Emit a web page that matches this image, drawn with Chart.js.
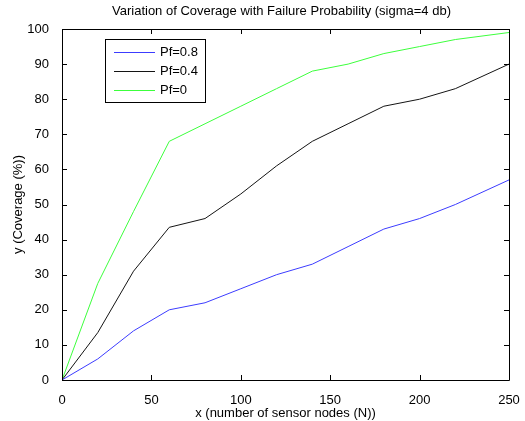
<!DOCTYPE html>
<html>
<head>
<meta charset="utf-8">
<script src="https://cdn.jsdelivr.net/npm/chart.js@4.4.1/dist/chart.umd.min.js"></script>
<style>
  body { margin: 0; background: #fff; }
  canvas { display: block; }
</style>
</head>
<body>
<canvas id="myChart" width="525" height="421"></canvas>
<script>
// datos
const nodes = [0, 20, 40, 60, 80, 100, 120, 140, 160, 180, 200, 220, 250];
const pf08 = [0, 6, 14, 20, 22, 26, 30, 33, 38, 43, 46, 50, 57];
const pf04 = [0, 13.5, 31, 43.5, 46, 53, 61, 68, 73, 78, 80, 83, 90];
const pf0 = [0, 27.5, 48, 68, 73, 78, 83, 88, 90, 93, 95, 97, 99];
const seriesNames = ["Pf=0.8", "Pf=0.4", "Pf=0"];
const xTicks = [0, 50, 100, 150, 200, 250];
const yTicks = [0, 10, 20, 30, 40, 50, 60, 70, 80, 90, 100];
const chartTitle = "Variation of Coverage with Failure Probability (sigma=4 db)";

Chart.defaults.font.family = "'Liberation Sans', Arial, sans-serif";
Chart.defaults.font.size = 13;
Chart.defaults.color = "#000";

function toPoints(ys) {
    return nodes.map((x, i) => ({ x: x, y: ys[i] }));
}

// marco estilo matlab con ticks hacia dentro, titulo centrado sobre los ejes y leyenda dentro
const frameAndLegend = {
    id: "frameAndLegend",
    afterDatasetsDraw(chart) {
        const ctx = chart.ctx;
        const a = chart.chartArea;
        const xs = chart.scales.x, ys = chart.scales.y;
        const t = 5;
        ctx.save();
        ctx.strokeStyle = "#000";
        ctx.lineWidth = 1;
        ctx.beginPath();
        ctx.rect(Math.round(a.left) + 0.5, Math.round(a.top) + 0.5,
                 Math.round(a.right - a.left), Math.round(a.bottom - a.top));
        xTicks.forEach(v => {
            const px = Math.round(xs.getPixelForValue(v)) + 0.5;
            ctx.moveTo(px, a.bottom); ctx.lineTo(px, a.bottom - t);
            ctx.moveTo(px, a.top); ctx.lineTo(px, a.top + t);
        });
        yTicks.forEach(v => {
            const py = Math.round(ys.getPixelForValue(v)) + 0.5;
            ctx.moveTo(a.left, py); ctx.lineTo(a.left + t, py);
            ctx.moveTo(a.right, py); ctx.lineTo(a.right - t, py);
        });
        ctx.stroke();

        // titulo
        ctx.font = "13px 'Liberation Sans', Arial, sans-serif";
        ctx.fillStyle = "#000";
        ctx.textAlign = "center";
        ctx.textBaseline = "middle";
        ctx.fillText(chartTitle, (a.left + a.right) / 2 - 4, 11);

        // leyenda
        const lx = 105.5, ly = 39.5, lw = 100, lh = 63;
        ctx.fillStyle = "#fff";
        ctx.fillRect(lx, ly, lw, lh);
        ctx.strokeRect(lx, ly, lw, lh);
        ctx.textAlign = "left";
        chart.data.datasets.forEach((ds, i) => {
            const cy = Math.round(52 + i * 19) + 0.5;
            ctx.strokeStyle = ds.borderColor;
            ctx.beginPath();
            ctx.moveTo(114, cy); ctx.lineTo(155, cy);
            ctx.stroke();
            ctx.fillStyle = "#000";
            ctx.fillText(ds.label, 160, cy);
        });
        ctx.restore();
    }
};

const ctx = document.getElementById("myChart").getContext("2d");
const chart = new Chart(ctx, {
    type: "scatter",
    data: {
        datasets: [
            { label: seriesNames[0], data: toPoints(pf08), borderColor: "rgb(60,60,255)" },
            { label: seriesNames[1], data: toPoints(pf04), borderColor: "rgb(20,20,20)" },
            { label: seriesNames[2], data: toPoints(pf0), borderColor: "rgb(60,255,60)" },
        ].map(d => Object.assign(d, { showLine: true, pointRadius: 0, borderWidth: 1, tension: 0, fill: false }))
    },
    options: {
        responsive: false,
        animation: false,
        layout: { padding: { left: 0, right: 16, top: 29, bottom: 0 } },
        plugins: {
            legend: { display: false },
            tooltip: { enabled: false },
            title: { display: false }
        },
        scales: {
            x: {
                type: "linear",
                min: 0, max: 250,
                afterBuildTicks: s => { s.ticks = xTicks.map(v => ({ value: v })); },
                afterFit: s => { s.height = 41; },
                grid: { display: false },
                border: { display: false },
                ticks: { padding: 5, maxRotation: 0 },
                title: { display: true, text: "x (number of sensor nodes (N))", padding: { top: 3.2, bottom: 0 } }
            },
            y: {
                type: "linear",
                min: 0, max: 100,
                afterBuildTicks: s => { s.ticks = yTicks.map(v => ({ value: v })); },
                afterFit: s => { s.width = 62; },
                grid: { display: false },
                border: { display: false },
                ticks: { padding: 5 },
                title: { display: true, text: "y (Coverage (%))", padding: { top: 10.2, bottom: 0 } }
            }
        }
    },
    plugins: [frameAndLegend]
});
</script>
</body>
</html>
